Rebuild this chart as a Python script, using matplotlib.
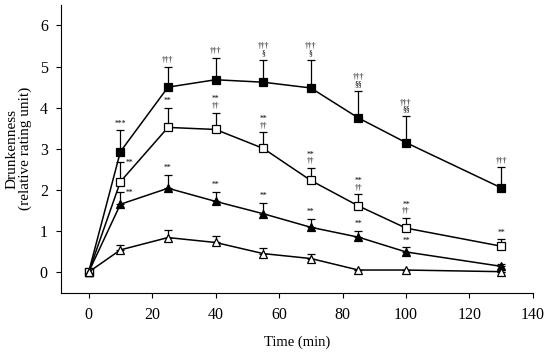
import matplotlib
matplotlib.use("Agg")
import matplotlib.pyplot as plt

plt.rcParams['font.family'] = ['Liberation Serif', 'DejaVu Serif']

time = [0, 10, 25, 40, 55, 70, 85, 100, 130]

filled_sq = [0, 2.93, 4.50, 4.68, 4.62, 4.48, 3.75, 3.15, 2.05]
filled_sq_err = [0, 0.52, 0.49, 0.54, 0.54, 0.68, 0.66, 0.64, 0.50]
filled_sq_lab = ["", "***", "†††", "†††", "†††\n§", "†††\n§", "†††\n§§", "†††\n§§", "†††"]

open_sq = [0, 2.20, 3.52, 3.47, 3.01, 2.23, 1.61, 1.07, 0.63]
open_sq_err = [0, 0.47, 0.47, 0.41, 0.39, 0.30, 0.28, 0.24, 0.17]
open_sq_lab = ["", "**", "**", "**\n††", "**\n††", "**\n††", "**\n††", "**\n††", "**"]

filled_tri = [0, 1.65, 2.04, 1.72, 1.42, 1.09, 0.85, 0.49, 0.14]
filled_tri_err = [0, 0.29, 0.33, 0.24, 0.26, 0.20, 0.16, 0.11, 0.06]
filled_tri_lab = ["", "**", "**", "**", "**", "**", "**", "**", ""]

open_tri = [0, 0.54, 0.84, 0.72, 0.45, 0.33, 0.05, 0.05, 0.01]
open_tri_err = [0, 0.12, 0.19, 0.17, 0.13, 0.12, 0.0, 0.0, 0.0]

xticks = [0, 20, 40, 60, 80, 100, 120, 140]
yticks = [0, 1, 2, 3, 4, 5, 6]

fig = plt.figure(figsize=(5.5, 3.53), dpi=100)
ax = fig.add_axes([0.111, 0.171, 0.858, 0.815])

series = [
    (filled_sq, filled_sq_err, filled_sq_lab, 's', 'black'),
    (open_sq, open_sq_err, open_sq_lab, 's', 'white'),
    (filled_tri, filled_tri_err, filled_tri_lab, '^', 'black'),
    (open_tri, open_tri_err, None, '^', 'white'),
]

for vals, errs, labs, mk, fc in series:
    ax.errorbar(time, vals, yerr=[[0]*len(errs), errs], fmt='none', ecolor='black',
                elinewidth=0.9, capsize=3, capthick=0.9, zorder=2)
    ax.plot(time, vals, color='black', lw=1.1, marker=mk, markersize=5.5 if mk == 's' else 6,
            markerfacecolor=fc, markeredgecolor='black', markeredgewidth=0.9, zorder=3)
    if labs:
        for i, (t, v, e, lab) in enumerate(zip(time, vals, errs, labs)):
            if not lab:
                continue
            if t == 10 and lab == "**":
                ax.annotate(lab, (t, v + e), xytext=(4, -3), textcoords='offset points',
                            ha='left', va='bottom', fontsize=5.5, linespacing=0.8)
            else:
                ax.annotate(lab, (t, v + e), xytext=(0, 2), textcoords='offset points',
                            ha='center', va='bottom', fontsize=5.5, linespacing=0.8)

ax.set_xlim(-8.7, 140)
ax.set_ylim(-0.5, 6.5)
ax.set_xticks(xticks)
ax.set_yticks(yticks)
ax.spines['top'].set_visible(False)
ax.spines['right'].set_visible(False)
ax.tick_params(direction='out', labelsize=11.5, length=3.5, width=0.8)
ax.tick_params(axis='x', pad=7)
ax.tick_params(axis='y', pad=6)
ax.set_xlabel('Time (min)', fontsize=10.5, labelpad=9)
ax.set_ylabel('Drunkenness\n(relative rating unit)', fontsize=11, linespacing=1.0, labelpad=6)

fig.savefig('out.png', dpi=100)
